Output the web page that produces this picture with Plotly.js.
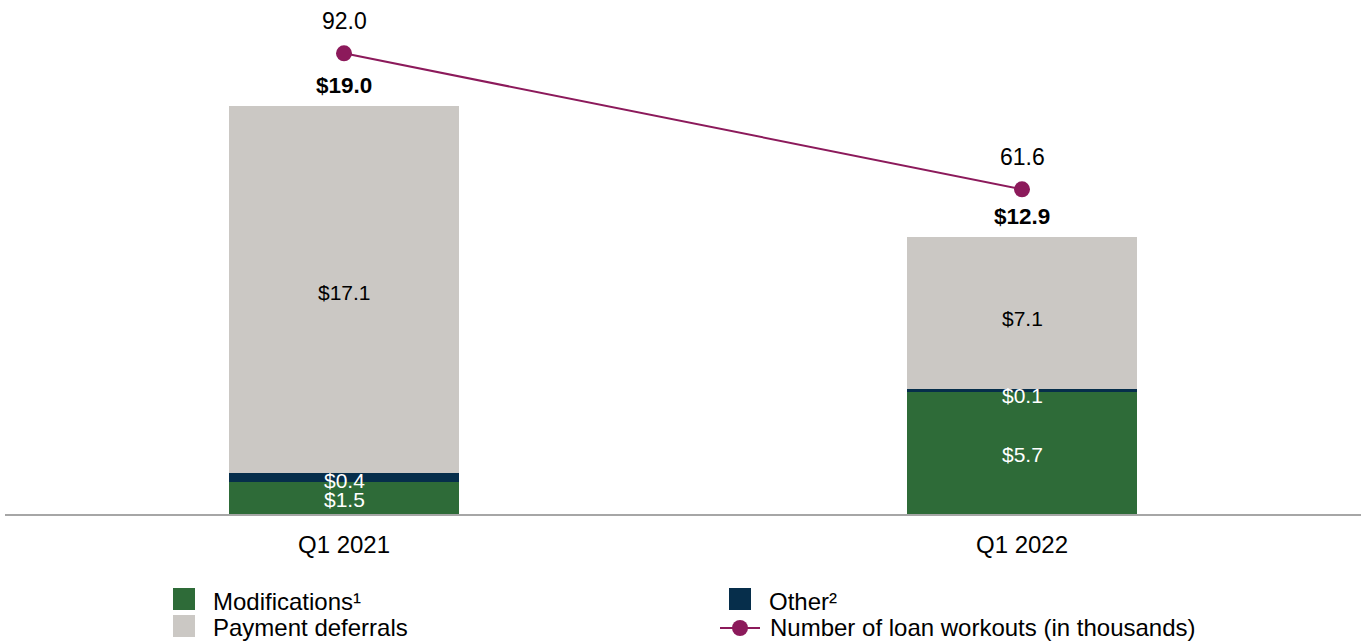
<!DOCTYPE html>
<html>
<head>
<meta charset="utf-8">
<script src="https://cdn.plot.ly/plotly-3.0.1.min.js"></script>
<style>html,body{margin:0;padding:0;background:#fff;}#chart{width:1361px;height:642px;}</style>
</head>
<body>
<div id="chart"></div>
<script>
// ---- data ----
const categories = ["Q1 2021", "Q1 2022"];
const modifications = [1.5, 5.7];
const other = [0.4, 0.1];
const paymentDeferrals = [17.1, 7.1];
const totals = [19.0, 12.9];
const loanWorkouts = [92.0, 61.6];
const seriesNames = ["Modifications¹", "Other²", "Payment deferrals", "Number of loan workouts (in thousands)"];

// ---- style ----
const C_GREEN = "#2e6b38", C_NAVY = "#062e4b", C_GRAY = "#cbc8c4", C_MAG = "#8c1a5b";
const FONT = "Liberation Sans, Arial, sans-serif";
const FS_SEG = 21, FS_TOT = 22.5, FS_LINE = 23, FS_TICK = 24, FS_LEG = 24;
const W = 1361, H = 642, ML = 5, MR = 0, MT = 10, MB = 128;
const PW = W - ML - MR, PH = H - MT - MB;
const px2x = p => (p - ML) / PW;
const py2y = p => (H - MB - p) / PH;

const traces = [
  {type: "bar", x: categories, y: modifications, name: seriesNames[0], marker: {color: C_GREEN}, width: 0.34, showlegend: false, hoverinfo: "skip"},
  {type: "bar", x: categories, y: other, name: seriesNames[1], marker: {color: C_NAVY}, width: 0.34, showlegend: false, hoverinfo: "skip"},
  {type: "bar", x: categories, y: paymentDeferrals, name: seriesNames[2], marker: {color: C_GRAY}, width: 0.34, showlegend: false, hoverinfo: "skip"},
  {type: "scatter", mode: "lines+markers", x: categories, y: loanWorkouts, yaxis: "y2", name: seriesNames[3],
   line: {color: C_MAG, width: 2}, marker: {color: C_MAG, size: 16}, showlegend: false, hoverinfo: "skip"}
];

const annotations = [];
const segs = [
  {vals: modifications, shifts: [-2, -2], color: "#ffffff"},
  {vals: other, shifts: [-3, -5], color: "#ffffff"},
  {vals: paymentDeferrals, shifts: [-3, -5], color: "#000000"}
];
categories.forEach((c, i) => {
  let base = 0;
  segs.forEach(s => {
    const v = s.vals[i];
    annotations.push({x: c, y: base + v / 2, xref: "x", yref: "y", text: "$" + v.toFixed(1), showarrow: false,
      yanchor: "middle", yshift: s.shifts[i], borderpad: 0, font: {family: FONT, size: FS_SEG, color: s.color}});
    base += v;
  });
  annotations.push({x: c, y: totals[i], xref: "x", yref: "y", text: "<b>$" + totals[i].toFixed(1) + "</b>", showarrow: false,
    yanchor: "middle", yshift: 21, font: {family: FONT, size: FS_TOT, color: "#000"}});
  annotations.push({x: c, y: loanWorkouts[i], xref: "x", yref: "y2", text: loanWorkouts[i].toFixed(1), showarrow: false,
    yanchor: "middle", yshift: 32, font: {family: FONT, size: FS_LINE, color: "#000"}});
});

// manual legend
const shapes = [];
const legendItems = [
  {kind: "box", color: C_GREEN, sx: 173, cy: 599, text: seriesNames[0]},
  {kind: "box", color: C_GRAY, sx: 173, cy: 626, text: seriesNames[2]},
  {kind: "box", color: C_NAVY, sx: 729, cy: 599, text: seriesNames[1]},
  {kind: "line", color: C_MAG, sx: 720, cy: 628, text: seriesNames[3]}
];
legendItems.forEach(it => {
  let tx;
  if (it.kind === "box") {
    shapes.push({type: "rect", xref: "paper", yref: "paper", x0: px2x(it.sx), x1: px2x(it.sx + 22),
      y0: py2y(it.cy + 11), y1: py2y(it.cy - 11), fillcolor: it.color, line: {width: 0}});
    tx = it.sx + 39;
  } else {
    shapes.push({type: "line", xref: "paper", yref: "paper", x0: px2x(it.sx), x1: px2x(it.sx + 40),
      y0: py2y(it.cy), y1: py2y(it.cy), line: {color: it.color, width: 2}});
    shapes.push({type: "circle", xref: "paper", yref: "paper", x0: px2x(it.sx + 12), x1: px2x(it.sx + 28),
      y0: py2y(it.cy + 8), y1: py2y(it.cy - 8), fillcolor: it.color, line: {width: 0}});
    tx = it.sx + 49;
  }
  const ty = Math.min(it.cy + 2, 627);
  annotations.push({xref: "paper", yref: "paper", x: px2x(tx), y: py2y(ty), xanchor: "left", yanchor: "middle",
    text: it.text, showarrow: false, borderpad: 0, font: {family: FONT, size: FS_LEG, color: "#000"}});
});

const layout = {
  width: W, height: H,
  margin: {l: ML, r: MR, t: MT, b: MB},
  paper_bgcolor: "#fff", plot_bgcolor: "#fff",
  barmode: "stack", showlegend: false,
  font: {family: FONT, size: FS_SEG, color: "#000"},
  xaxis: {type: "category", showline: true, linecolor: "#a6a6a6", linewidth: 2, ticks: "", showgrid: false,
          zeroline: false, tickfont: {family: FONT, size: FS_TICK, color: "#000"}, ticklabelstandoff: 8, fixedrange: true},
  yaxis: {range: [0, PH / 21.47], visible: false, showgrid: false, zeroline: false, fixedrange: true},
  yaxis2: {range: [-10.97, -10.97 + PH / 4.474], overlaying: "y", side: "right", visible: false, showgrid: false, zeroline: false, fixedrange: true},
  annotations: annotations,
  shapes: shapes
};

Plotly.newPlot("chart", traces, layout, {displayModeBar: false, staticPlot: true});
</script>
</body>
</html>
